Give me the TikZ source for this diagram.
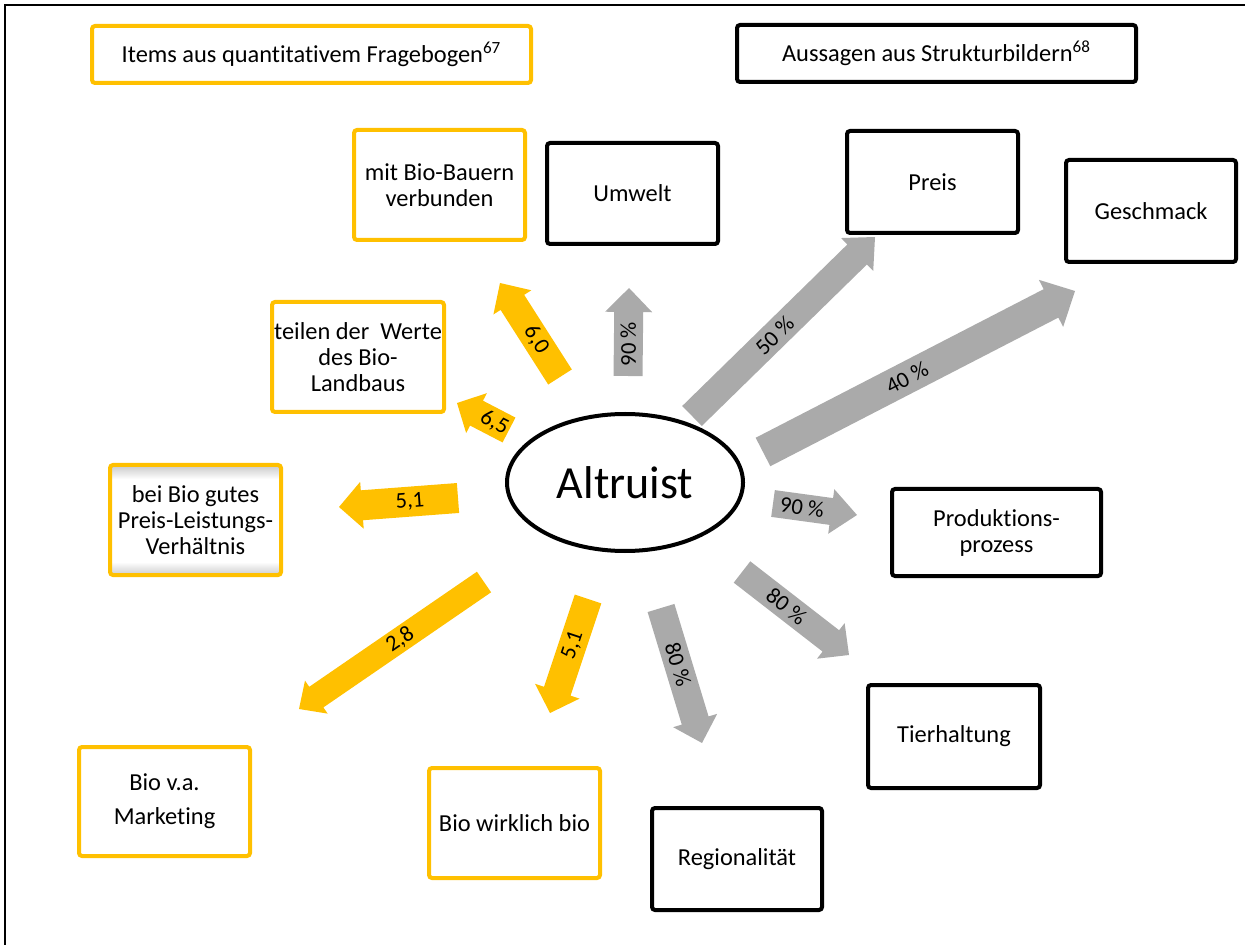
\documentclass[tikz,border=0pt]{standalone}
\usepackage{fontspec}
\setmainfont{Carlito}[Ligatures={NoCommon}, Contextuals={NoAlternate}, RawFeature={-clig}]
\usetikzlibrary{calc,shapes.geometric}
\definecolor{gold}{HTML}{FFC000}
\definecolor{shaftgray}{HTML}{AAAAAA}

% Block arrow from (#1-t) to (#1-p): #2 fill style, #3 half shaft width,
% #4 half head width, #5 head length
\newcommand{\blockarrow}[5]{%
  \coordinate (#1-b) at ($(#1-p)!#5!(#1-t)$);
  \fill[#2] ($(#1-t)!#3!90:(#1-p)$) -- ($(#1-b)!#3!90:(#1-p)$)
    -- ($(#1-b)!#4!90:(#1-p)$) -- (#1-p)
    -- ($(#1-b)!#4!-90:(#1-p)$) -- ($(#1-b)!#3!-90:(#1-p)$)
    -- ($(#1-t)!#3!-90:(#1-p)$) -- cycle;
}

\begin{document}
\begin{tikzpicture}[x=0.5pt, y=-0.5pt,
  boxbase/.style={line width=2pt, rounded corners=1.5pt, align=center,
    inner sep=0pt, font=\fontsize{12.2}{13}\selectfont},
  ybox/.style={boxbase, draw=gold},
  kbox/.style={boxbase, draw=black},
  sz/.style 2 args={minimum width=#1, minimum height=#2},
  yarrow/.style={gold},
  garrow/.style={shaftgray},
  lbl/.style={inner sep=0pt, font=\fontsize{11.3}{12}\selectfont}]
\useasboundingbox (0,0) rectangle (1245,945);

% outer frame (top and left edges)
\draw[line width=1pt] (5,945) -- (5,5) -- (1245,5);

% legend boxes
\node[ybox, sz={219.5pt}{28.5pt}] (items) at (311.5,54.5)
  {Items aus quantitativem Fragebogen\textsuperscript{67}};
\node[kbox, sz={199.5pt}{28.5pt}] (aussagen) at (936.5,53.5)
  {Aussagen aus Strukturbildern\textsuperscript{68}};

% centre
\node[ellipse, draw, line width=2pt, minimum width=118pt, minimum height=68.5pt,
  inner sep=0pt, font=\fontsize{23}{26}\selectfont] (altruist) at (625,482.5) {Altruist};

% questionnaire items
\node[ybox, sz={85.5pt}{55pt}] (bauern) at (439.5,185) {mit Bio-Bauern\\verbunden};
\node[ybox, sz={86pt}{55pt}] (werte) at (358,357) {teilen der\ \ Werte\\des Bio-\\Landbaus};
\shade[top color=black!20, bottom color=white] (110,466) rectangle (281,479);
\shade[top color=white, bottom color=black!20] (110,562) rectangle (281,575);
\node[ybox, sz={85.5pt}{55pt}] (leistung) at (195.5,520) {bei Bio gutes\\Preis-Leistungs-\\Verhältnis};
\node[ybox, sz={85.5pt}{54.5pt}] (marketing) at (164.5,801.5) {Bio v.a.\\[4pt]Marketing};
\node[ybox, sz={85.5pt}{55pt}] (wirklich) at (514.5,823) {Bio wirklich bio};

% statements from structure images
\node[kbox, sz={85.5pt}{50.5pt}] (umwelt) at (632.5,193.5) {Umwelt};
\node[kbox, sz={85.5pt}{51pt}] (preis) at (932.5,182) {Preis};
\node[kbox, sz={85pt}{51pt}] (geschmack) at (1151,211) {Geschmack};
\node[kbox, sz={104.5pt}{43.5pt}] (produktion) at (996.5,532.5) {Produktions-\\prozess};
\node[kbox, sz={86pt}{51.5pt}] (tierhaltung) at (954,736.5) {Tierhaltung};
\node[kbox, sz={85pt}{51pt}] (regional) at (737,859) {Regionalität};

% arrow end points
\coordinate (a60-t) at (560,377);  \coordinate (a60-p) at (500,283);
\coordinate (u90-t) at (628,376);  \coordinate (u90-p) at (629,288);
\coordinate (a65-t) at (509,430);  \coordinate (a65-p) at (457,403);
\coordinate (p50-t) at (692,416);  \coordinate (p50-p) at (875,237);
\coordinate (g40-t) at (763,452);  \coordinate (g40-p) at (1075,291);
\coordinate (r90-t) at (773,503.5);\coordinate (r90-p) at (857,515);
\coordinate (t80-t) at (742,572);  \coordinate (t80-p) at (849,655);
\coordinate (l51-t) at (458,498);  \coordinate (l51-p) at (339,507);
\coordinate (a28-t) at (484,582);  \coordinate (a28-p) at (299,709);
\coordinate (d51-t) at (588,599);  \coordinate (d51-p) at (550,713);
\coordinate (r80-t) at (661,608);  \coordinate (r80-p) at (702,743);

% arrows
\blockarrow{a60}{yarrow}{7pt}{11.25pt}{11.5pt}
\blockarrow{u90}{garrow}{7.25pt}{11.75pt}{12pt}
\blockarrow{a65}{yarrow}{7pt}{11.25pt}{11pt}
\blockarrow{p50}{garrow}{7pt}{11.5pt}{12.5pt}
\blockarrow{g40}{garrow}{8pt}{13.25pt}{13.5pt}
\blockarrow{r90}{garrow}{6.75pt}{11.25pt}{13pt}
\blockarrow{t80}{garrow}{6.75pt}{11.25pt}{11.5pt}
\blockarrow{l51}{yarrow}{7.5pt}{11.75pt}{11.5pt}
\blockarrow{a28}{yarrow}{6.25pt}{10pt}{10.5pt}
\blockarrow{d51}{yarrow}{7pt}{11.75pt}{11.5pt}
\blockarrow{r80}{garrow}{7pt}{11.5pt}{11.75pt}

% arrow labels
\node[lbl, rotate=-57.5] (la60) at ($(a60-t)!0.5!(a60-b)$) {6,0};
\node[lbl, rotate=90]    (lu90) at ($(u90-t)!0.5!(u90-b)$) {90 \%};
\node[lbl, rotate=-27.4] (la65) at ($(a65-t)!0.45!(a65-b)$) {6,5};
\node[lbl, rotate=44.4]  (lp50) at ($(p50-t)!0.5!(p50-b)$) {50 \%};
\node[lbl, rotate=27.3]  (lg40) at ($(g40-t)!0.5!(g40-b)$) {40 \%};
\node[lbl, rotate=-8]    (lr90) at ($(r90-t)!0.5!(r90-b)$) {90 \%};
\node[lbl, rotate=-37.8] (lt80) at ($(t80-t)!0.5!(t80-b)$) {80 \%};
\node[lbl, rotate=4.3]   (ll51) at ($(l51-t)!0.5!(l51-b)$) {5,1};
\node[lbl, rotate=34.5]  (la28) at ($(a28-t)!0.5!(a28-b)$) {2,8};
\node[lbl, rotate=71.6]  (ld51) at ($(d51-t)!0.5!(d51-b)$) {5,1};
\node[lbl, rotate=-73.1] (lr80) at ($(r80-t)!0.5!(r80-b)$) {80 \%};
\end{tikzpicture}
\end{document}
